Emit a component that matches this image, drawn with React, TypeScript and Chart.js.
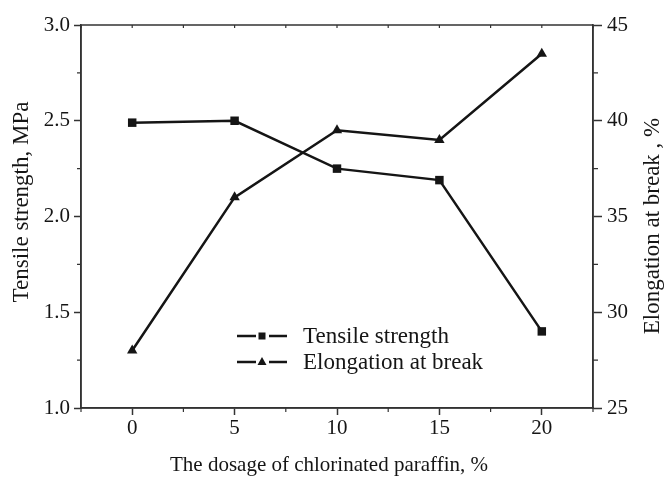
import React, { useEffect, useRef } from 'react';
import { Chart, registerables } from 'chart.js';

Chart.register(...registerables);

// ---- data ----
const dosage = [0, 5, 10, 15, 20];
const tensileStrength = [2.49, 2.5, 2.25, 2.19, 1.4];
const elongation = [28, 36, 39.5, 39, 43.5];
const xTicks = [0, 5, 10, 15, 20];
const xMinorTicks = [-2.5, 2.5, 7.5, 12.5, 17.5, 22.5];
const leftTicks = [1.0, 1.5, 2.0, 2.5, 3.0];
const leftMinorTicks = [1.25, 1.75, 2.25, 2.75];
const rightTicks = [25, 30, 35, 40, 45];
const rightMinorTicks = [27.5, 32.5, 37.5, 42.5];
const seriesLabels = ['Tensile strength', 'Elongation at break'];
const xTitle = 'The dosage of chlorinated paraffin, %';
const leftTitle = 'Tensile strength, MPa';
const rightTitle = 'Elongation at break , %';

const FONT = "'Liberation Serif', 'Times New Roman', serif";
const AXIS = '#333';
const INK = '#151515';

const decorPlugin = {
  id: 'decor',
  afterDraw(chart: any) {
    const { ctx, chartArea, scales } = chart;
    const { left, right, top, bottom } = chartArea;
    ctx.save();
    // frame
    ctx.strokeStyle = AXIS;
    ctx.lineWidth = 1.5;
    ctx.strokeRect(left, top, right - left, bottom - top);
    // minor ticks
    ctx.lineWidth = 1.2;
    ctx.beginPath();
    xMinorTicks.forEach((v) => {
      const px = scales.x.getPixelForValue(v);
      ctx.moveTo(px, bottom);
      ctx.lineTo(px, bottom + 4);
    });
    [...xTicks, ...xMinorTicks].forEach((v) => {
      const px = scales.x.getPixelForValue(v);
      ctx.moveTo(px, top);
      ctx.lineTo(px, top + 3);
    });
    leftMinorTicks.forEach((v) => {
      const py = scales.y.getPixelForValue(v);
      ctx.moveTo(left, py);
      ctx.lineTo(left - 4, py);
    });
    rightMinorTicks.forEach((v) => {
      const py = scales.y1.getPixelForValue(v);
      ctx.moveTo(right, py);
      ctx.lineTo(right + 5, py);
    });
    ctx.stroke();

    // titles
    ctx.fillStyle = INK;
    ctx.textAlign = 'center';
    ctx.textBaseline = 'middle';
    ctx.font = `21px ${FONT}`;
    ctx.fillText(xTitle, (left + right) / 2 - 8, 465);
    ctx.font = `23px ${FONT}`;
    ctx.save();
    ctx.translate(22, 202);
    ctx.rotate(-Math.PI / 2);
    ctx.fillText(leftTitle, 0, 0);
    ctx.restore();
    ctx.save();
    ctx.translate(653, 226);
    ctx.rotate(-Math.PI / 2);
    ctx.fillText(rightTitle, 0, 0);
    ctx.restore();

    // legend
    const rows = [336, 362];
    chart.data.datasets.forEach((ds: any, i: number) => {
      const y = rows[i];
      ctx.strokeStyle = INK;
      ctx.lineWidth = 2.5;
      ctx.beginPath();
      ctx.moveTo(237, y);
      ctx.lineTo(256, y);
      ctx.moveTo(269, y);
      ctx.lineTo(287, y);
      ctx.stroke();
      ctx.fillStyle = INK;
      const cx = 262;
      if (ds.pointStyle === 'rect') {
        ctx.fillRect(cx - 3.5, y - 3.5, 7, 7);
      } else {
        ctx.beginPath();
        ctx.moveTo(cx, y - 5);
        ctx.lineTo(cx + 4.5, y + 3);
        ctx.lineTo(cx - 4.5, y + 3);
        ctx.closePath();
        ctx.fill();
      }
      ctx.textAlign = 'left';
      ctx.textBaseline = 'middle';
      ctx.font = `23px ${FONT}`;
      ctx.fillText(ds.label, 303, y + 1);
    });
    ctx.restore();
  },
};

export default function App() {
  const ref = useRef<HTMLCanvasElement>(null);
  useEffect(() => {
    if (!ref.current) return;
    const tickFont = { family: FONT, size: 21 };
    const chart = new Chart(ref.current, {
      type: 'line',
      data: {
        datasets: [
          {
            label: seriesLabels[0],
            data: dosage.map((x, i) => ({ x, y: tensileStrength[i] })),
            yAxisID: 'y',
            borderColor: INK,
            backgroundColor: INK,
            borderWidth: 2.5,
            pointStyle: 'rect',
            pointRadius: 6,
            pointBorderWidth: 0,
            tension: 0,
          },
          {
            label: seriesLabels[1],
            data: dosage.map((x, i) => ({ x, y: elongation[i] })),
            yAxisID: 'y1',
            borderColor: INK,
            backgroundColor: INK,
            borderWidth: 2.5,
            pointStyle: 'triangle',
            pointRadius: 6,
            pointBorderWidth: 0,
            tension: 0,
          },
        ],
      },
      options: {
        animation: false,
        responsive: false,
        devicePixelRatio: 1,
        layout: { padding: { top: 25, left: 0, right: 0, bottom: 0 } },
        plugins: { legend: { display: false }, tooltip: { enabled: false } },
        scales: {
          x: {
            type: 'linear',
            min: -2.5,
            max: 22.5,
            afterBuildTicks: (s: any) => {
              s.ticks = xTicks.map((v) => ({ value: v }));
            },
            afterFit: (s: any) => {
              s.height = 69;
            },
            ticks: { font: tickFont, color: INK, padding: 1, callback: (v: any) => String(v) },
            grid: { drawOnChartArea: false, drawTicks: true, tickLength: 7, tickColor: AXIS, tickWidth: 1.5 },
            border: { display: true, color: AXIS, width: 1.5 },
          },
          y: {
            type: 'linear',
            position: 'left',
            min: 1,
            max: 3,
            afterBuildTicks: (s: any) => {
              s.ticks = leftTicks.map((v) => ({ value: v }));
            },
            afterFit: (s: any) => {
              s.width = 81;
            },
            ticks: { font: tickFont, color: INK, padding: 4, callback: (v: any) => Number(v).toFixed(1) },
            grid: { drawOnChartArea: false, drawTicks: true, tickLength: 7, tickColor: AXIS, tickWidth: 1.5 },
            border: { display: true, color: AXIS, width: 1.5 },
          },
          y1: {
            type: 'linear',
            position: 'right',
            min: 25,
            max: 45,
            afterBuildTicks: (s: any) => {
              s.ticks = rightTicks.map((v) => ({ value: v }));
            },
            afterFit: (s: any) => {
              s.width = 72;
            },
            ticks: { font: tickFont, color: INK, padding: 5, callback: (v: any) => String(v) },
            grid: { drawOnChartArea: false, drawTicks: true, tickLength: 9, tickColor: AXIS, tickWidth: 1.5 },
            border: { display: true, color: AXIS, width: 1.5 },
          },
        },
      },
      plugins: [decorPlugin],
    } as any);
    return () => chart.destroy();
  }, []);
  return (
    <div style={{ position: 'fixed', left: 0, top: 0, width: 665, height: 477, background: '#fff' }}>
      <canvas ref={ref} width={665} height={477} />
    </div>
  );
}
